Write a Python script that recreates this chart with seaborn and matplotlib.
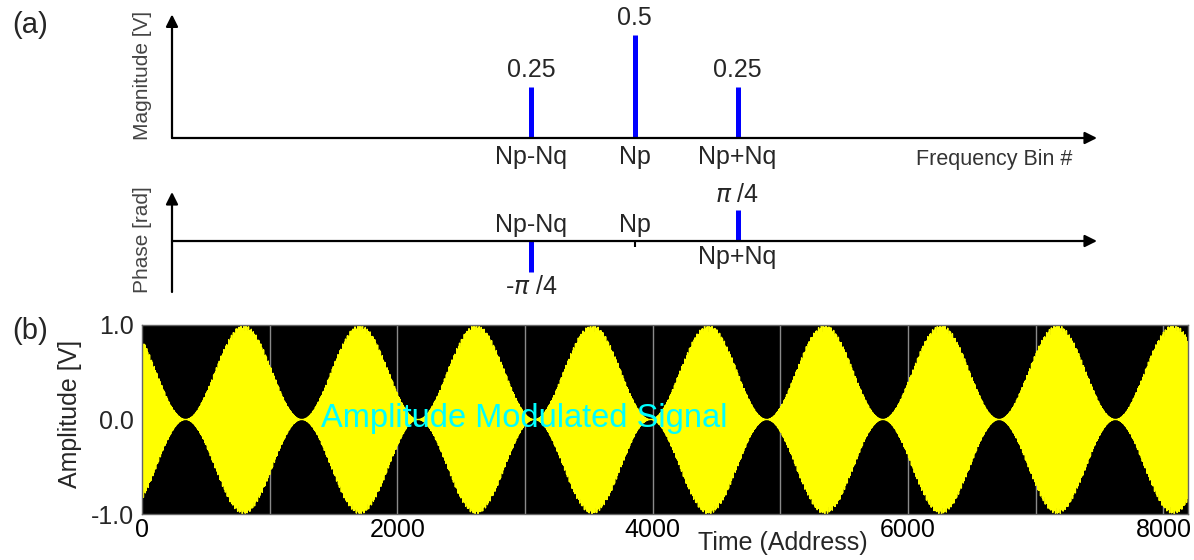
import numpy as np
import matplotlib.pyplot as plt
from matplotlib.ticker import MultipleLocator
import seaborn as sns

# ==========================================
# 数据
# ==========================================
freq_labels = ['Np-Nq', 'Np', 'Np+Nq']
bin_offsets = [-1, 0, 1]            # 以 Nq 为单位, 相对 Np
magnitudes = [0.25, 0.5, 0.25]
phases = [-np.pi / 4, 0.0, np.pi / 4]
phase_labels = [r'-$\pi$ /4', '', r'$\pi$ /4']

N_SAMPLES = 8192
NP_BIN = 1110
NQ_BIN = 9
time_ticks = [0, 2000, 4000, 6000, 8000]
amp_ticks = [-1.0, 0.0, 1.0]

W, H = 1194, 560
BLUE = '#0000ff'
GREY = '#444444'

sns.set_style('white')
plt.rcParams['font.family'] = ['Liberation Sans', 'DejaVu Sans']


def arrow(ax, xy, xytext, coords='axes fraction'):
    ax.annotate('', xy=xy, xytext=xytext, xycoords=coords, textcoords=coords,
                arrowprops=dict(arrowstyle='-|>', lw=1.6, color='k',
                                mutation_scale=18, shrinkA=0, shrinkB=0))


fig = plt.figure(figsize=(W / 100, H / 100), dpi=100)

# ==========================================
# (a) 幅度谱
# ==========================================
ax_mag = fig.add_axes([172 / W, 1 - 138 / H, 925 / W, 123.6 / H])
ax_mag.set_xlim(-4.49, 4.49)
ax_mag.set_ylim(0, 0.6)
ax_mag.axis('off')
arrow(ax_mag, (1, 0), (0, 0))
arrow(ax_mag, (0, 1), (0, 0))
ax_mag.vlines(bin_offsets, 0, magnitudes, colors=BLUE, lw=3.6)
for x, m, lab in zip(bin_offsets, magnitudes, freq_labels):
    ax_mag.annotate(f'{m:g}', (x, m), xytext=(0, 7), textcoords='offset points',
                    ha='center', va='baseline', fontsize=18)
    ax_mag.annotate(lab, (x, 0), xytext=(0, -5), textcoords='offset points',
                    ha='center', va='top', fontsize=18)
fig.text(1072 / W, 1 - 159 / H, 'Frequency Bin #', ha='right', va='center',
         fontsize=15.5, color='#333333')
fig.text(143 / W, 1 - 75 / H, 'Magnitude [V]', rotation=90, ha='center', va='center',
         fontsize=15, color=GREY)

# ==========================================
# (a) 相位谱
# ==========================================
ax_ph = fig.add_axes([172 / W, 1 - 292 / H, 925 / W, 100 / H])
ax_ph.set_xlim(-4.49, 4.49)
ax_ph.set_ylim(-1.29, 1.24)
ax_ph.axis('off')
arrow(ax_ph, (1, 0), (0, 0), coords=('axes fraction', 'data'))
arrow(ax_ph, (0, 1), (0, 0))
for x, p, lab, plab in zip(bin_offsets, phases, freq_labels, phase_labels):
    if p == 0:
        ax_ph.vlines(x, -0.15, 0, colors='k', lw=1.5)
    else:
        ax_ph.vlines(x, 0, p, colors=BLUE, lw=3.6)
        sgn = np.sign(p)
        ax_ph.annotate(plab, (x, p), xytext=(0, 11 * sgn), textcoords='offset points',
                       ha='center', va='center', fontsize=18)
    if p <= 0:
        ax_ph.annotate(lab, (x, 0), xytext=(0, 3), textcoords='offset points',
                       ha='center', va='bottom', fontsize=18)
    else:
        ax_ph.annotate(lab, (x, 0), xytext=(0, -3), textcoords='offset points',
                       ha='center', va='top', fontsize=18)
fig.text(143 / W, 1 - 240 / H, 'Phase [rad]', rotation=90, ha='center', va='center',
         fontsize=15, color=GREY)

fig.text(30 / W, 1 - 25 / H, '(a)', ha='center', va='center', fontsize=21)
fig.text(30 / W, 1 - 331 / H, '(b)', ha='center', va='center', fontsize=21)

# ==========================================
# (b) 时域信号 (由上面的频谱合成)
# ==========================================
t = np.arange(N_SAMPLES)
signal = np.zeros(N_SAMPLES)
for off, m, p in zip(bin_offsets, magnitudes, phases):
    signal += m * np.cos(2 * np.pi * (NP_BIN + off * NQ_BIN) * t / N_SAMPLES + p)

ax_sig = fig.add_axes([142 / W, 1 - 514 / H, 1046 / W, 189 / H])
ax_sig.set_facecolor('black')
sns.lineplot(x=t, y=signal, ax=ax_sig, color='#ffff00', lw=1.0,
             estimator=None, sort=False, legend=False)
ax_sig.set_xlim(0, N_SAMPLES)
ax_sig.set_ylim(-1, 1)
for g in range(1000, N_SAMPLES, 1000):
    ax_sig.axvline(g, color='#8a8a8a', lw=1, zorder=0)
ax_sig.set_xticks(time_ticks)
ax_sig.set_xticklabels([str(v) for v in time_ticks])
ax_sig.set_yticks(amp_ticks)
ax_sig.set_yticklabels([f'{v:.1f}' for v in amp_ticks])
ax_sig.xaxis.set_minor_locator(MultipleLocator(500))
ax_sig.tick_params(axis='x', which='both', direction='in', colors='#9a9a9a',
                   labelcolor='k', labelsize=18, pad=3)
ax_sig.tick_params(axis='x', which='minor', length=4)
ax_sig.tick_params(axis='x', which='major', length=0)
ax_sig.tick_params(axis='y', length=0, labelsize=18, pad=6)
ax_sig.set_xlabel('')
ax_sig.set_ylabel('')
for s in ax_sig.spines.values():
    s.set_color('#666666')
    s.set_linewidth(1)

ax_sig.text(2990, -0.08, 'Amplitude Modulated Signal', color='#00ffff',
            ha='center', va='baseline', fontsize=23.5)
fig.text(70 / W, 1 - 414 / H, 'Amplitude [V]', rotation=90, ha='center', va='center',
         fontsize=18)
fig.text(783 / W, 1 - 543 / H, 'Time (Address)', ha='center', va='center', fontsize=18)

fig.savefig('out.png', dpi=100)
